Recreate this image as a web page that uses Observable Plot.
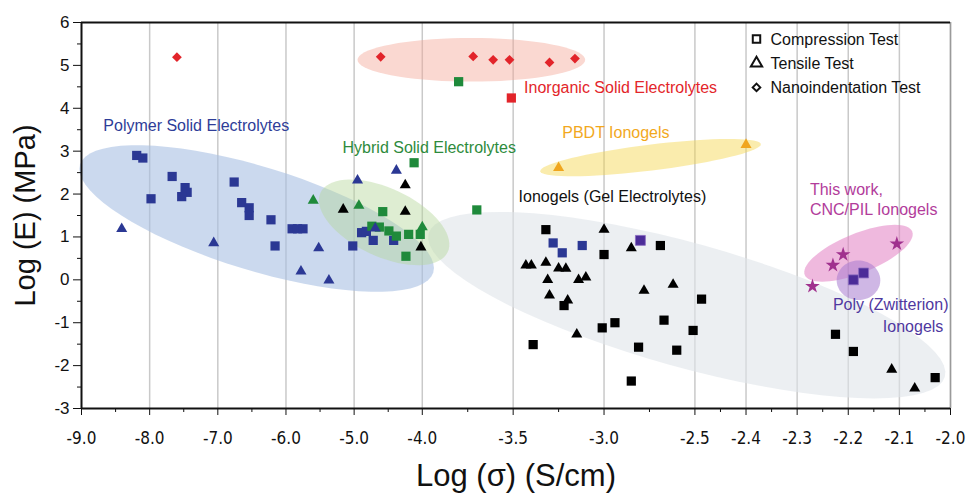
<!DOCTYPE html>
<html><head><meta charset="utf-8">
<script src="https://cdn.jsdelivr.net/npm/d3@7"></script>
<script src="https://cdn.jsdelivr.net/npm/@observablehq/plot@0.6"></script>
<style>
html,body{margin:0;padding:0;background:#fff;}
#chart svg{display:block;background:#fff;}
</style>
</head><body><div id="chart"></div>
<script>
// ---- axis ticks ----
const xTickValues = [-9, -8, -7, -6, -5, -4, -3.5, -3, -2.5, -2.4, -2.3, -2.2, -2.1, -2];
const xTickLabels = ["-9.0","-8.0","-7.0","-6.0","-5.0","-4.0","-3.5","-3.0","-2.5","-2.4","-2.3","-2.2","-2.1","-2.0"];
const yTickValues = [-3, -2, -1, 0, 1, 2, 3, 4, 5, 6];

// ---- data: [log sigma, log E] ----
const polymerSquares = [[-8.19,2.90],[-8.10,2.84],[-7.67,2.41],[-7.98,1.89],[-7.48,2.15],[-7.45,2.04],[-7.53,1.94],[-6.76,2.28],[-6.65,1.80],[-6.54,1.68],[-6.54,1.50],[-6.22,1.40],[-5.91,1.19],[-5.83,1.19],[-5.75,1.19],[-6.16,0.79],[-5.02,0.79],[-4.89,1.10],[-4.82,1.13],[-4.72,0.92],[-4.42,0.92],[-3.28,0.86],[-3.23,0.63],[-3.12,0.80]];
const polymerTriangles = [[-8.41,1.19],[-7.06,0.86],[-5.52,0.74],[-5.78,0.20],[-5.37,-0.01],[-4.95,2.32],[-4.38,2.55],[-4.69,1.20]];
const hybridSquares = [[-4.12,2.73],[-4.58,1.59],[-4.74,1.25],[-4.63,1.23],[-4.49,1.14],[-4.38,1.02],[-4.20,1.06],[-4.03,1.06],[-4.24,0.55],[-3.70,1.63],[-3.80,4.62]];
const hybridTriangles = [[-5.60,1.85],[-4.93,1.73],[-4.00,1.23]];
const inorganicDiamonds = [[-7.60,5.19],[-4.61,5.20],[-3.72,5.21],[-3.61,5.13],[-3.52,5.13],[-3.30,5.07],[-3.16,5.16]];
const inorganicSquares = [[-3.51,4.24]];
const pbdtTriangles = [[-3.25,2.61],[-2.40,3.15]];
const ionogelSquares = [[-3.32,1.17],[-2.69,0.80],[-3.00,0.59],[-3.22,-0.60],[-2.487,-0.45],[-2.67,-0.94],[-2.51,-1.18],[-2.94,-1.00],[-3.01,-1.12],[-3.39,-1.51],[-2.81,-1.57],[-2.60,-1.64],[-2.85,-2.36],[-2.225,-1.27],[-2.19,-1.67],[-2.03,-2.28]];
const ionogelTriangles = [[-5.16,1.64],[-4.25,2.21],[-4.25,1.59],[-4.02,0.76],[-3.00,1.17],[-2.85,0.74],[-3.43,0.34],[-3.40,0.34],[-3.32,0.40],[-3.25,0.27],[-3.21,0.26],[-3.31,0.00],[-3.14,0.00],[-3.10,0.06],[-3.30,-0.36],[-3.20,-0.48],[-2.78,-0.25],[-2.62,-0.11],[-3.15,-1.27],[-2.115,-2.09],[-2.07,-2.53]];
const zwitterionSquares = [[-2.80,0.92],[-2.19,0.00],[-2.17,0.16]];
const thisWorkStars = [[-2.27,-0.15],[-2.23,0.34],[-2.21,0.59],[-2.105,0.84]];

const groupNames = ["polymer","hybrid","inorganic","pbdt","ionogel","zwitterion","thisWork"];
const groupColors = ["#2b3894","#1f8a3b","#e2242a","#f0a61e","#000000","#4b2c98","#a0318e"];

// ---- shaded regions (centre in data units, semi-axes in x-axis units) ----
const regionCX = [-2.545, -6.43, -4.56, -3.73, -2.744, -2.18, -2.18];
const regionCY = [-0.59, 1.43, 1.34, 5.13, 2.85, 0.62, -0.01];
const regionA = [3.93, 2.71, 1.03, 1.67, 1.63, 0.85, 0.32];
const regionB = [0.91, 0.76, 0.50, 0.32, 0.19, 0.29, 0.29];
const regionAngle = [-15.5, -17, -25, 0, 7, 22, 0];
const regionFill = ["#dfe4ea", "#a9bfe2", "#b5d69c", "#f3a89a", "#f5d54a", "#e27fc3", "#a77bcf"];
const regionOpacity = [0.6, 0.6, 0.45, 0.45, 0.45, 0.55, 0.55];

// ---- annotations ----
const labelTexts = ["Polymer Solid Electrolytes","Hybrid Solid Electrolytes","Inorganic Solid Electrolytes","PBDT Ionogels","Ionogels (Gel Electrolytes)","This work,","CNC/PIL Ionogels","Poly (Zwitterion)","Ionogels"];
const labelX = [-8.68, -5.17, -3.44, -3.23, -3.47, -2.275, -2.275, -2.004, -2.014];
const labelY = [3.60, 3.08, 4.48, 3.43, 1.93, 2.10, 1.63, -0.59, -1.10];
const labelColors = ["#2e3d98","#2e8b3c","#e3262a","#f2a81d","#111111","#b23c9b","#b23c9b","#4f38a0","#4f38a0"];
const labelAnchors = ["start","start","start","start","start","start","start","end","end"];
const legendLabels = ["Compression Test","Tensile Test","Nanoindentation Test"];
const legendSymbols = ["square","triangle","diamond2"];

// ---- layout ----
const W = 969, H = 493, mL = 81, mR = 19, mT = 22, mB = 85;
const xBreaks = [-9, -4, -2.5, -2];
const uBreaks = [0, 5, 9, 12.75];
const toU = d3.scaleLinear().domain(xBreaks).range(uBreaks);
const aspect = ((W - mL - mR) / 12.75) / ((H - mT - mB) / 9);

const rows = (arr, group) => arr.map(([x, y]) => ({u: toU(x), y, group}));
const squares = [...rows(polymerSquares,"polymer"),...rows(hybridSquares,"hybrid"),...rows(inorganicSquares,"inorganic"),...rows(ionogelSquares,"ionogel")];
const triangles = [...rows(polymerTriangles,"polymer"),...rows(hybridTriangles,"hybrid"),...rows(pbdtTriangles,"pbdt"),...rows(ionogelTriangles,"ionogel")];
const diamonds = rows(inorganicDiamonds,"inorganic");
const zsq = rows(zwitterionSquares,"zwitterion");
const stars = rows(thisWorkStars,"thisWork");

function ellipse(i) {
  const cu = toU(regionCX[i]), cy = regionCY[i], th = regionAngle[i] * Math.PI / 180;
  return d3.range(73).map(k => {
    const t = k / 72 * 2 * Math.PI;
    const ex = regionA[i] * Math.cos(t), ey = regionB[i] * Math.sin(t);
    return {u: cu + ex * Math.cos(th) - ey * Math.sin(th), y: cy + (ex * Math.sin(th) + ey * Math.cos(th)) * aspect};
  });
}

const uTicks = xTickValues.map(v => toU(v));
const labelByU = new Map(uTicks.map((u, i) => [u, xTickLabels[i]]));
const uMinor = xTickValues.slice(1).map((v, i) => toU((v + xTickValues[i]) / 2));
const yMinor = yTickValues.slice(1).map(v => v - 0.5);
const idx = d3.range(labelTexts.length);
const startIdx = idx.filter(i => labelAnchors[i] === "start");
const endIdx = idx.filter(i => labelAnchors[i] === "end");
const narrow = "'Liberation Sans Narrow', 'DejaVu Sans Condensed', 'Liberation Sans', sans-serif";
const labelOpts = {x: i => toU(labelX[i]), y: i => labelY[i], text: i => labelTexts[i], fill: i => labelColors[i], fontSize: 16};

const marks = [
  Plot.ruleX(uTicks.slice(1), {stroke: "#c9c9c9", strokeWidth: 1.5}),
  ...regionCX.map((_, i) => Plot.line(ellipse(i), {x: "u", y: "y", fill: regionFill[i], fillOpacity: regionOpacity[i], stroke: "none", curve: "linear-closed"})),
  Plot.ruleX([toU(-2)], {stroke: "#9a9a9a", strokeWidth: 1.5}),
  Plot.ruleY([6], {stroke: "#111", strokeWidth: 2}),
  Plot.ruleY([-3], {stroke: "#111", strokeWidth: 2}),
  Plot.ruleX([toU(-9)], {stroke: "#111", strokeWidth: 2}),
  Plot.axisX(uTicks, {tickSize: 7, tickPadding: 16, tickFormat: u => labelByU.get(u), fontSize: 17, fontFamily: narrow, label: null, stroke: "#111", fill: "#111"}),
  Plot.axisX(uMinor, {tickSize: 4, tickFormat: () => "", label: null, stroke: "#111"}),
  Plot.axisY(yTickValues, {tickSize: 8, tickPadding: 4, tickFormat: d => String(d), fontSize: 17, label: null, stroke: "#111", fill: "#111"}),
  Plot.axisY(yMinor, {tickSize: 4, tickFormat: () => "", label: null, stroke: "#111"}),
  Plot.dot(squares, {x: "u", y: "y", fill: "group", symbol: "square", r: 5.2}),
  Plot.dot(triangles, {x: "u", y: "y", fill: "group", symbol: "triangle", r: 4.1}),
  Plot.dot(diamonds, {x: "u", y: "y", fill: "group", symbol: "diamond2", r: 4.4}),
  Plot.dot(zsq, {x: "u", y: "y", fill: "group", symbol: "square", r: 5.6, stroke: "#8a6cc0", strokeWidth: 0.8}),
  Plot.dot(stars, {x: "u", y: "y", fill: "group", symbol: "star", r: 4.6}),
  Plot.text(startIdx, {...labelOpts, textAnchor: "start"}),
  Plot.text(endIdx, {...labelOpts, textAnchor: "end"}),
  Plot.text(["Log (E) (MPa)"], {frameAnchor: "left", dx: -56, rotate: -90, textAnchor: "middle", lineAnchor: "middle", fontSize: 29, fill: "#111"}),
  Plot.text(["Log (σ) (S/cm)"], {frameAnchor: "bottom", dy: 68, textAnchor: "middle", lineAnchor: "middle", fontSize: 31, fill: "#111"}),
  Plot.text([legendLabels.join("\n")], {frameAnchor: "top-right", dx: -180, dy: 5, textAnchor: "start", lineAnchor: "top", lineHeight: 1.5, fontSize: 16, fill: "#111"}),
  ...legendSymbols.map((s, i) => Plot.dot([0], {frameAnchor: "top-right", dx: -194, dy: 16.5 + 24.2 * i, symbol: s, r: s === "diamond2" ? 3.4 : 4.2, stroke: "#111", strokeWidth: 2, fill: "none"}))
];

const chart = Plot.plot({
  width: W, height: H,
  marginLeft: mL, marginRight: mR, marginTop: mT, marginBottom: mB,
  style: {fontFamily: "'Liberation Sans', Arial, sans-serif", background: "#fff", color: "#111"},
  x: {type: "linear", domain: [0, 12.75]},
  y: {type: "linear", domain: [-3, 6]},
  color: {domain: groupNames, range: groupColors},
  marks
});
document.getElementById("chart").appendChild(chart);
</script>
</body></html>
